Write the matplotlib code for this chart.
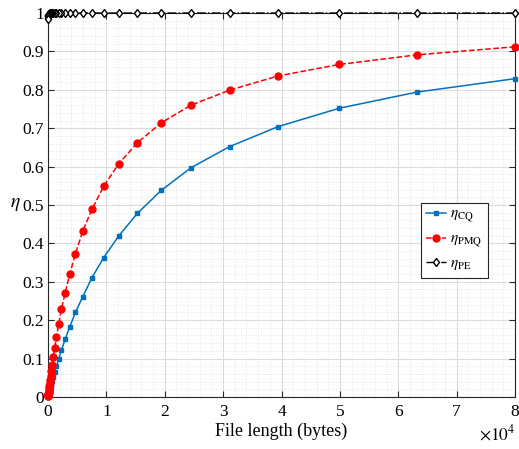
import matplotlib
matplotlib.use("Agg")
import matplotlib.pyplot as plt
from matplotlib.ticker import MultipleLocator, FuncFormatter

plt.rcParams['font.family'] = ['Liberation Serif', 'DejaVu Serif']
plt.rcParams['mathtext.fontset'] = 'stix'

# File length (bytes)
file_len = [80000, 63200, 49900, 39400, 31100, 24500, 19400, 15300, 12100, 9550,
            7540, 5950, 4700, 3710, 2930, 2310, 1830, 1440, 1140, 900,
            710, 560, 442, 349, 276, 218, 172, 136, 107, 85,
            67, 53, 42, 33, 26, 20]

eta_cq = [0.829, 0.794, 0.752, 0.704, 0.652, 0.597, 0.538, 0.478, 0.419, 0.363,
          0.311, 0.261, 0.220, 0.182, 0.150, 0.122, 0.099, 0.080, 0.065, 0.052,
          0.041, 0.033, 0.026, 0.021, 0.016, 0.013, 0.010, 0.008, 0.006, 0.005,
          0.004, 0.003, 0.0025, 0.002, 0.0016, 0.0012]

eta_pmq = [0.912, 0.891, 0.866, 0.836, 0.799, 0.760, 0.714, 0.662, 0.607, 0.549,
           0.489, 0.432, 0.373, 0.319, 0.270, 0.229, 0.190, 0.156, 0.128, 0.104,
           0.084, 0.068, 0.054, 0.043, 0.035, 0.028, 0.022, 0.017, 0.014, 0.011,
           0.0086, 0.0068, 0.0054, 0.0043, 0.0034, 0.0026]

eta_pe = [1.0, 1.0, 1.0, 1.0, 1.0, 1.0, 1.0, 1.0, 1.0, 1.0,
          1.0, 1.0, 1.0, 0.9999, 0.9999, 0.9999, 0.9998, 0.9998, 0.9997, 0.9997,
          0.9996, 0.9995, 0.9993, 0.999, 0.9988, 0.9985, 0.998, 0.9975, 0.997, 0.996,
          0.995, 0.994, 0.993, 0.991, 0.989, 0.985]

x_ticks = [0, 1, 2, 3, 4, 5, 6, 7, 8]
y_ticks = [0, 0.1, 0.2, 0.3, 0.4, 0.5, 0.6, 0.7, 0.8, 0.9, 1.0]

fig = plt.figure(figsize=(5.19, 4.49), dpi=100)
ax = fig.add_axes([0.0925, 0.116, 0.8998, 0.855])

ax.plot(file_len, eta_cq, '-', color='#0072BD', lw=1.1, marker='s', ms=3.2,
        mfc='#0072BD', mec='#0072BD', label=r'$\eta_{\mathrm{CQ}}$', clip_on=False, zorder=3)
ax.plot(file_len, eta_pmq, '--', color='#FF0000', lw=1.1, marker='o', ms=5,
        mfc='#FF0000', mec='#FF0000', label=r'$\eta_{\mathrm{PMQ}}$', clip_on=False, zorder=3)
ax.plot(file_len, eta_pe, '-.', color='black', lw=1.0, marker='d', ms=4.5,
        mfc='white', mec='black', mew=1.0, label=r'$\eta_{\mathrm{PE}}$', clip_on=False, zorder=4)

ax.set_xlim(0, 80000)
ax.set_ylim(0, 1)
ax.set_xticks([t * 1e4 for t in x_ticks])
ax.xaxis.set_major_formatter(FuncFormatter(lambda v, p: f"{v/1e4:g}"))
ax.set_yticks(y_ticks)
ax.yaxis.set_major_formatter(FuncFormatter(lambda v, p: f"{v:g}"))
ax.xaxis.set_minor_locator(MultipleLocator(2000))
ax.yaxis.set_minor_locator(MultipleLocator(0.02))

ax.grid(True, which='major', color='#dcdcdc', lw=0.8, ls='-')
ax.grid(True, which='minor', color='#dedede', lw=0.6, ls=(0, (1, 2)))
ax.set_axisbelow(True)

ax.tick_params(which='major', direction='in', length=4, width=0.8, top=True, right=True,
               labelsize=12.5, colors='#262626', labelcolor='black', pad=5)
ax.tick_params(axis='y', which='major', pad=3)
ax.tick_params(which='minor', length=0, top=True, right=True)
for s in ax.spines.values():
    s.set_color('#262626')
    s.set_linewidth(0.8)

ax.set_xlabel('File length (bytes)', fontsize=13, labelpad=2)
ax.set_ylabel(r'$\eta$', fontsize=14, rotation=0, ha='center', va='center')
ax.yaxis.set_label_coords(-0.07, 0.5)

fig.text(0.994, 0.012, r'$\times10^4$', ha='right', va='bottom', fontsize=12.5)

leg = ax.legend(loc='upper left', bbox_to_anchor=(0.799, 0.506), fontsize=11,
                fancybox=False, edgecolor='#262626', framealpha=1, borderpad=0.35,
                labelspacing=0.45, handlelength=1.3, handletextpad=0.25, borderaxespad=0)
leg.get_frame().set_linewidth(0.8)

fig.savefig('out.png', dpi=100)
